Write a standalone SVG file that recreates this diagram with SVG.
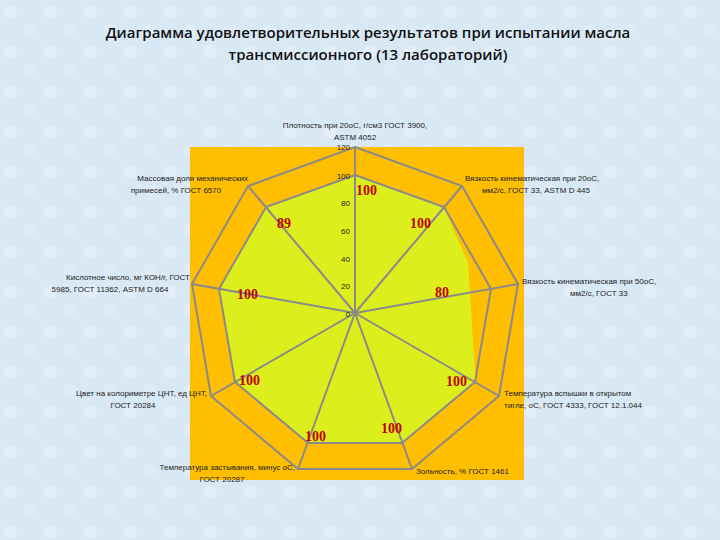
<svg xmlns="http://www.w3.org/2000/svg" width="720" height="540" viewBox="0 0 720 540">
<style>
.t{font-family:"Liberation Sans",Arial,sans-serif;font-size:8px;fill:#222}
.ti{font-family:"Open Sans","Liberation Sans",sans-serif;font-size:15px;fill:#111;text-anchor:middle;font-weight:600}
.v{font-family:"Liberation Serif",serif;font-size:14px;fill:#c00000;font-weight:bold}
.g{fill:none;stroke:#8a8a8a;stroke-width:2}
</style>
<defs>
<pattern id="p" width="40" height="40" patternUnits="userSpaceOnUse">
<rect width="40" height="40" fill="#d9e8f5"/>
<circle cx="10" cy="12" r="7" fill="#e3eef8"/>
<circle cx="30" cy="30" r="6" fill="#e0ecf7"/>
</pattern>
</defs>
<rect width="720" height="540" fill="url(#p)"/>
<g id="title">
<text class="ti" x="368" y="38">Диаграмма удовлетворительных результатов при испытании масла</text>
<text class="ti" x="368" y="60">трансмиссионного (13 лабораторий)</text>
</g>
<g id="plot">
<rect x="190" y="147" width="334" height="333" fill="#ffbe00"/>
<polygon fill="#dcee1c" points="356,175 444,207 458,240 468,262 475,373 475,382 402,443 308,443 235,382 219,289 266,207 330,184"/>
</g>
<g id="connectors">
<polygon class="g" points="355,147 462,186 518,284 499,396 412,469 298,469 211,396 192,284 248,186"/>
<polygon class="g" points="355,175 444,207 491,289 475,382 402,443 308,443 235,382 219,289 266,207"/>
<g stroke="#8a8a8a" stroke-width="2">
<line x1="355" y1="313" x2="355" y2="147"/>
<line x1="355" y1="313" x2="462" y2="186"/>
<line x1="355" y1="313" x2="518" y2="284"/>
<line x1="355" y1="313" x2="499" y2="396"/>
<line x1="355" y1="313" x2="412" y2="469"/>
<line x1="355" y1="313" x2="298" y2="469"/>
<line x1="355" y1="313" x2="211" y2="396"/>
<line x1="355" y1="313" x2="192" y2="284"/>
<line x1="355" y1="313" x2="248" y2="186"/>
</g>
</g>
<g id="scale" class="t" text-anchor="end">
<text x="350" y="150">120</text><text x="350" y="179">100</text><text x="350" y="206">80</text>
<text x="350" y="234">60</text><text x="350" y="262">40</text><text x="350" y="289">20</text><text x="350" y="317">0</text>
</g>
<g id="values" class="v">
<text x="356" y="195">100</text><text x="410" y="228">100</text><text x="277" y="228">89</text>
<text x="237" y="299">100</text><text x="435" y="297">80</text><text x="239" y="385">100</text>
<text x="446" y="386">100</text><text x="305" y="441">100</text><text x="381" y="433">100</text>
</g>
<g id="labels" class="t">
<text x="355" y="128" text-anchor="middle">Плотность при 20оС, г/см3 ГОСТ 3900,</text>
<text x="355" y="140" text-anchor="middle">ASTM 4052</text>
<text x="465" y="181">Вязкость кинематическая при 20оС,</text>
<text x="482" y="193">мм2/с, ГОСТ 33, ASTM D 445</text>
<text x="522" y="284">Вязкость кинематическая при 50оС,</text>
<text x="570" y="296">мм2/с, ГОСТ 33</text>
<text x="504" y="396">Температура вспышки в открытом</text>
<text x="504" y="408">тигле, оС, ГОСТ 4333, ГОСТ 12.1.044</text>
<text x="416" y="474">Зольность, % ГОСТ 1461</text>
<text x="295" y="470" text-anchor="end">Температура застывания,  минус оС,</text>
<text x="222" y="482" text-anchor="middle">ГОСТ 20287</text>
<text x="207" y="396" text-anchor="end">Цвет на колориметре ЦНТ, ед ЦНТ,</text>
<text x="133" y="408" text-anchor="middle">ГОСТ 20284</text>
<text x="190" y="280" text-anchor="end">Кислотное число, мг КОН/г,  ГОСТ</text>
<text x="110" y="292" text-anchor="middle">5985, ГОСТ 11362, ASTM D 664</text>
<text x="248" y="181" text-anchor="end">Массовая доля механических</text>
<text x="176" y="193" text-anchor="middle">примесей, % ГОСТ 6570</text>
</g>
</svg>
